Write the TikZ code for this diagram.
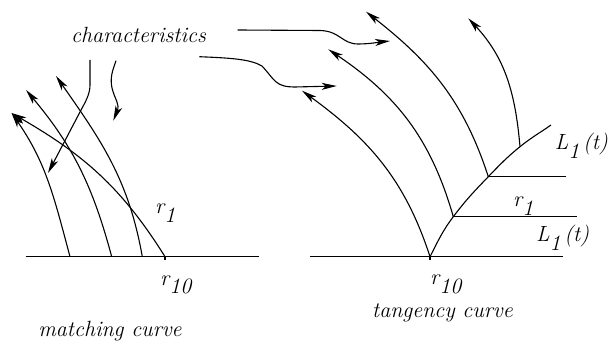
\documentclass[tikz,border=0pt]{standalone}
\usetikzlibrary{arrows.meta}
\newcommand\subl[2]{#1\raisebox{-9pt}{#2}}
\begin{document}
\begin{tikzpicture}[x=1pt,y=1pt,
  ln/.style={line width=1.1pt},
  arr/.style={line width=1.1pt,-{Stealth[length=15pt,width=7pt,inset=4pt]}},
  lbl/.style={inner sep=0pt,font=\itshape\fontsize{22}{26}\selectfont}]
\useasboundingbox (0,0) rectangle (610,340);
% left panel coordinates
\coordinate (bl0) at (25.7,83.3);
\coordinate (bl1) at (259,83.3);
\coordinate (sA) at (70,83.3);
\coordinate (sB) at (111.7,83.3);
\coordinate (sC) at (142.3,83.3);
\coordinate (rL) at (165,83.3);
\coordinate (tAD) at (11.5,227);
\coordinate (tB) at (26,250);
\coordinate (tC) at (56,264);
% right panel coordinates
\coordinate (br0) at (310,83.3);
\coordinate (br1) at (562.7,83.3);
\coordinate (rR) at (430,83.3);
\coordinate (p1) at (453.3,123.3);
\coordinate (p2) at (488.3,163.3);
\coordinate (p3) at (520,193.3);
\coordinate (p4) at (551,215);
\coordinate (h1) at (577.3,123.3);
\coordinate (h2) at (566,163.3);
\coordinate (ta) at (302,249.3);
\coordinate (tb) at (328.3,290.7);
\coordinate (tc) at (366,328.3);
\coordinate (td) at (468.3,321.7);
% pointer arrows
\coordinate (q1s) at (90,280);
\coordinate (q1e) at (48,167);
\coordinate (q2s) at (116,279.3);
\coordinate (q2e) at (113.3,219.3);
\coordinate (q3s) at (237.7,310);
\coordinate (q3e) at (390,299);
\coordinate (q4s) at (199.3,283.3);
\coordinate (q4e) at (336.7,254);

% left panel
\draw[ln] (bl0) -- (bl1);
\draw[ln] (rL) -- ++(0,-3);
\draw[arr] (sA) to[out=105,in=-55] (tAD);
\draw[arr] (sB) to[out=105,in=-50] (tB);
\draw[arr] (sC) to[out=100,in=-55] (tC);
\draw[arr] (rL) to[out=122,in=-30] (tAD);

% right panel
\draw[ln] (br0) -- (br1);
\draw[ln] (rR) -- ++(0,-3);
\draw[ln] (rR) to[out=63,in=-127] (p1) to[out=53,in=-134] (p2) to[out=46,in=-141] (p3) to[out=39,in=-145] (p4);
\draw[ln] (p1) -- (h1);
\draw[ln] (p2) -- (h2);
\draw[arr] (rR) to[out=108,in=-36] (ta);
\draw[arr] (p1) to[out=106,in=-34] (tb);
\draw[arr] (p2) to[out=108,in=-38] (tc);
\draw[arr] (p3) to[out=95,in=-47] (td);

% pointers from label
\draw[arr] (q1s) -- (90,255) .. controls (90,245) and (84.6,236.8) .. (80,228) -- (q1e);
\draw[arr] (q2s) .. controls (112,268) and (110,262) .. (112,252) .. controls (115,240) and (120,236) .. (q2e);
\draw[arr] (q3s) -- (320,309.5) .. controls (340,309) and (342,296) .. (358,296) .. controls (370,296) and (380,298) .. (q3e);
\draw[arr] (q4s) .. controls (230,282) and (250,281) .. (262,274) .. controls (275,260) and (275,253) .. (295,253) -- (q4e);

% labels
\node[lbl,anchor=base] (chl) at (138.5,297) {characteristics};
\node[lbl,anchor=base west] (r1l) at (155,126.7) {\subl{r}{1}};
\node[lbl,anchor=base west] (r10l) at (160,55) {\subl{r}{10}};
\node[lbl,anchor=base west] (r10r) at (430,56) {\subl{r}{10}};
\node[lbl,anchor=base west] (r1r) at (513,133) {\subl{r}{1}};
\node[lbl,anchor=base west] (L1a) at (536,98.3) {\subl{L}{1}\,(t)};
\node[lbl,anchor=base east] (L1b) at (608,190) {\subl{L}{1}\,(t)};
\node[lbl,anchor=base] (mc) at (110,4) {matching curve};
\node[lbl,anchor=base] (tcv) at (442.5,23) {tangency curve};
\end{tikzpicture}
\end{document}
